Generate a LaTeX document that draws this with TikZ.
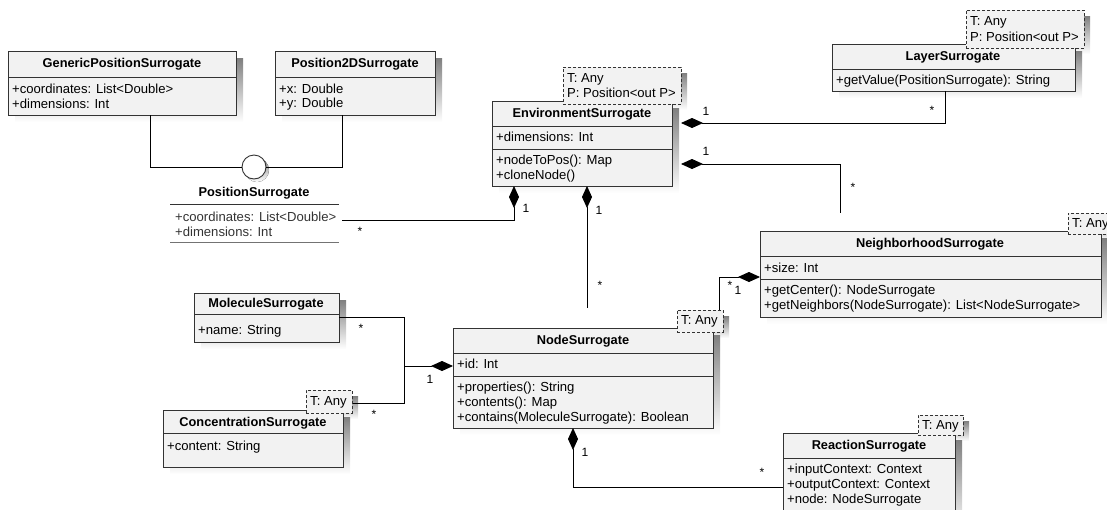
\documentclass[tikz,border=0pt]{standalone}
\usepackage{fontspec}
\setmainfont{Liberation Sans}
\usetikzlibrary{arrows.meta,calc}

\definecolor{boxfill}{HTML}{F2F2F2}
\definecolor{shade}{HTML}{DCDCDC}
\definecolor{edge}{HTML}{333333}

\tikzset{
  classbox/.style={draw=edge, line width=0.9pt, fill=boxfill, rectangle,
    inner sep=0pt, outer sep=0pt, anchor=north west},
  tmplbox/.style={draw=edge, line width=0.9pt, dash pattern=on 3pt off 2pt,
    fill=boxfill, rectangle, inner sep=0pt, outer sep=0pt, anchor=north west},
  title/.style={font=\fontsize{12.8}{15}\selectfont\bfseries, inner sep=0pt},
  member/.style={font=\fontsize{13.1}{15}\selectfont, anchor=west, inner sep=0pt},
  mult/.style={font=\fontsize{12}{14}\selectfont, inner sep=0pt},
  link/.style={draw=black, line width=0.9pt},
  comp/.style={link, {Diamond[length=22pt,width=10pt,fill=black]}-},
  sepline/.style={draw=edge, line width=0.9pt},
}

% class frame with drop shadow: name, x, y, width, height
\newcommand\classframe[5]{%
  \fill[shade] (#2+7,#3+7) rectangle (#2+#4+7,#3+#5+7);
  \node[classbox, minimum width=#4pt, minimum height=#5pt] (#1) at (#2,#3) {};
}
% shadow of a template parameter frame: x, y, width, height
\newcommand\tmplshadow[4]{%
  \fill[shade] (#1+6,#2+6) rectangle (#1+#3+6,#2+#4+6);
}
% template parameter frame: name, x, y, width, height
\newcommand\tmplframe[5]{%
  \node[tmplbox, minimum width=#4pt, minimum height=#5pt] (#1) at (#2,#3) {};
}
% compartment rule: node name, distance below the top
\newcommand\classrule[2]{%
  \draw[sepline] ([yshift=-#2pt]#1.north west) -- ([yshift=-#2pt]#1.north east);
}

\begin{document}
\begin{tikzpicture}[x=1pt, y=-1pt]
\useasboundingbox (0,0) rectangle (1107,509);

% ---------------- GenericPositionSurrogate
\classframe{gen}{8}{51}{228}{64}
\classrule{gen}{26}
\node[title] (gen-t) at (122,64) {GenericPositionSurrogate};
\node[member] (gen-a1) at (12,89) {+coordinates: List<Double>};
\node[member] (gen-a2) at (12,104) {+dimensions: Int};

% ---------------- Position2DSurrogate
\classframe{p2d}{275}{51}{160}{64}
\classrule{p2d}{26}
\node[title] (p2d-t) at (355,64) {Position2DSurrogate};
\node[member] (p2d-a1) at (279,89) {+x: Double};
\node[member] (p2d-a2) at (279,104) {+y: Double};

% ---------------- PositionSurrogate (interface, lollipop)
\fill[shade] (257,170) circle (12);
\node[circle, draw=edge, line width=0.9pt, fill=white, minimum size=24pt,
  inner sep=0pt] (ps) at (254,167) {};
\draw[link] ([xshift=142pt]gen.south west) |- (ps.west);
\draw[link] ([xshift=67pt]p2d.south west) |- (ps.east);
\node[title] (ps-t) at (254,193) {PositionSurrogate};
\coordinate (ps-r1a) at (170,204);
\coordinate (ps-r1b) at (339,204);
\coordinate (ps-r2a) at (170,242);
\coordinate (ps-r2b) at (339,242);
\draw[sepline] (ps-r1a) -- (ps-r1b);
\draw[draw=black!55, line width=0.9pt] (ps-r2a) -- (ps-r2b);
\node[member, text=black!80] (ps-a1) at (175,217) {+coordinates: List<Double>};
\node[member, text=black!80] (ps-a2) at (175,232) {+dimensions: Int};

% ---------------- EnvironmentSurrogate
\tmplshadow{563}{67}{118}{37}
\classframe{env}{492}{101}{180}{85}
\classrule{env}{25}
\classrule{env}{48}
\node[title] (env-t) at (582,114) {EnvironmentSurrogate};
\node[member] (env-a1) at (496,137) {+dimensions: Int};
\node[member] (env-m1) at (496,161) {+nodeToPos(): Map};
\node[member] (env-m2) at (496,176) {+cloneNode()};
\tmplframe{env-p}{563}{67}{118}{37}
\node[member] (env-p1) at (567,79) {T: Any};
\node[member] (env-p2) at (567,93) {P: Position<out P>};

% ---------------- LayerSurrogate
\tmplshadow{966}{10}{118}{38}
\classframe{lay}{832}{44}{243}{47}
\classrule{lay}{25}
\node[title] (lay-t) at (953,57) {LayerSurrogate};
\node[member] (lay-a1) at (836,81) {+getValue(PositionSurrogate): String};
\tmplframe{lay-p}{966}{10}{118}{38}
\node[member] (lay-p1) at (970,22) {T: Any};
\node[member] (lay-p2) at (970,37) {P: Position<out P>};

% ---------------- NeighborhoodSurrogate
\tmplshadow{1068}{213}{60}{21}
\classframe{nbh}{760}{231}{341}{86}
\classrule{nbh}{25}
\classrule{nbh}{48}
\node[title] (nbh-t) at (930,244) {NeighborhoodSurrogate};
\node[member] (nbh-a1) at (764,268) {+size: Int};
\node[member] (nbh-m1) at (764,291) {+getCenter(): NodeSurrogate};
\node[member] (nbh-m2) at (764,306) {+getNeighbors(NodeSurrogate): List<NodeSurrogate>};
\tmplframe{nbh-p}{1068}{213}{60}{21}
\node[member] (nbh-p1) at (1072,224) {T: Any};

% ---------------- NodeSurrogate
\tmplshadow{677}{310}{46}{22}
\classframe{nod}{453}{328}{260}{100}
\classrule{nod}{25}
\classrule{nod}{48}
\node[title] (nod-t) at (583,341) {NodeSurrogate};
\node[member] (nod-a1) at (457,364) {+id: Int};
\node[member] (nod-m1) at (457,388) {+properties(): String};
\node[member] (nod-m2) at (457,403) {+contents(): Map};
\node[member] (nod-m3) at (457,418) {+contains(MoleculeSurrogate): Boolean};
\tmplframe{nod-p}{677}{310}{46}{22}
\node[member] (nod-p1) at (681,321) {T: Any};

% ---------------- MoleculeSurrogate
\classframe{mol}{194}{293}{145}{49}
\classrule{mol}{21}
\node[title] (mol-t) at (266,304) {MoleculeSurrogate};
\node[member] (mol-a1) at (198,331) {+name: String};

% ---------------- ConcentrationSurrogate
\tmplshadow{306}{390}{46}{23}
\classframe{con}{163}{410}{180}{57}
\classrule{con}{23}
\node[title] (con-t) at (253,423) {ConcentrationSurrogate};
\node[member] (con-a1) at (167,447) {+content: String};
\tmplframe{con-p}{306}{390}{46}{23}
\node[member] (con-p1) at (310,402) {T: Any};

% ---------------- ReactionSurrogate
\tmplshadow{918}{415}{45}{20}
\classframe{rea}{783}{433}{172}{95}
\classrule{rea}{25}
\node[title] (rea-t) at (869,446) {ReactionSurrogate};
\node[member] (rea-a1) at (787,470) {+inputContext: Context};
\node[member] (rea-a2) at (787,485) {+outputContext: Context};
\node[member] (rea-a3) at (787,500) {+node: NodeSurrogate};
\tmplframe{rea-p}{918}{415}{45}{20}
\node[member] (rea-p1) at (922,426) {T: Any};

% ---------------- compositions
% EnvironmentSurrogate <>-- PositionSurrogate
\draw[comp] ([xshift=22pt]env.south west) |- ([xshift=3pt,yshift=-16pt]ps-r1b);
\node[mult] (m1a) at (526,208) {1};
\node[mult] (m1b) at (360,231) {*};

% EnvironmentSurrogate <>-- NodeSurrogate
\draw[comp] ([xshift=95pt]env.south west) -- ([xshift=134pt,yshift=20pt]nod.north west);
\node[mult] (m2a) at (599,210) {1};
\node[mult] (m2b) at (600,285) {*};

% EnvironmentSurrogate <>-- LayerSurrogate
\draw[comp] ([xshift=9pt,yshift=-22pt]env.north east) -| ([xshift=113pt]lay.south west);
\node[mult] (m3a) at (706,111) {1};
\node[mult] (m3b) at (932,110) {*};

% EnvironmentSurrogate <>-- NeighborhoodSurrogate
\draw[comp] ([xshift=9pt,yshift=-63pt]env.north east) -| ([xshift=80pt,yshift=18pt]nbh.north west);
\node[mult] (m4a) at (706,151) {1};
\node[mult] (m4b) at (853,187) {*};

% NeighborhoodSurrogate <>-- NodeSurrogate
\draw[comp] ([yshift=-46pt]nbh.north west) -| ([xshift=42pt]nod-p.north west);
\node[mult] (m5b) at (730,285) {*};
\node[mult] (m5a) at (738,290) {1};

% NodeSurrogate <>-- MoleculeSurrogate / ConcentrationSurrogate
\coordinate (junc) at (404,366);
\draw[comp] ([yshift=-38pt]nod.north west) -- (junc);
\draw[link] ([yshift=-24pt]mol.north east) -| (junc);
\draw[link] ([xshift=1pt,yshift=-13pt]con-p.north east) -| (junc);
\node[mult] (m6a) at (430,379) {1};
\node[mult] (m6b) at (361,328) {*};
\node[mult] (m6c) at (374,414) {*};

% NodeSurrogate <>-- ReactionSurrogate
\draw[comp] ([xshift=120pt]nod.south west) |- ([yshift=-54pt]rea.north west);
\node[mult] (m7a) at (585,452) {1};
\node[mult] (m7b) at (762,472) {*};

\end{tikzpicture}
\end{document}
